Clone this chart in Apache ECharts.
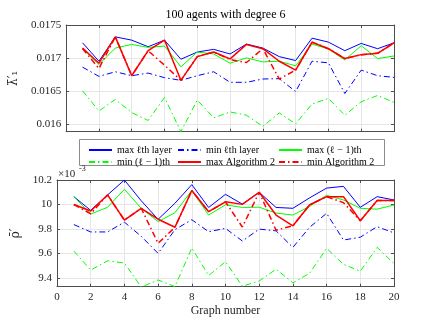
<!DOCTYPE html>
<html>
<head>
<meta charset="utf-8">
<script src="https://cdn.jsdelivr.net/npm/echarts@6/dist/echarts.min.js"></script>
<style>
  html, body { margin: 0; padding: 0; background: #fff; }
  #chart { width: 436px; height: 327px; }
</style>
</head>
<body>
<div id="chart"></div>
<script>
// graph index on x
const graphs = [1, 2, 3, 4, 5, 6, 7, 8, 9, 10, 11, 12, 13, 14, 15, 16, 17, 18, 19, 20];

// top panel: lambda bar'_1
const topMaxL = [0.01723, 0.01695, 0.01732, 0.01727, 0.01717, 0.01727, 0.01698, 0.01709, 0.01713, 0.01706,
                 0.01721, 0.01715, 0.01702, 0.01696, 0.01730, 0.01724, 0.01711, 0.01722, 0.01714, 0.01723];
const topMinL = [0.01686, 0.01672, 0.01679, 0.01673, 0.01677, 0.01670, 0.01666, 0.01673, 0.01679, 0.01663,
                 0.01663, 0.01668, 0.016685, 0.01649, 0.01695, 0.016925, 0.01646, 0.016815, 0.01673, 0.016705];
const topMaxL1 = [0.017145, 0.0169, 0.01715, 0.017205, 0.01716, 0.01718, 0.016865, 0.01709, 0.01706, 0.01692,
                  0.0170, 0.01694, 0.01695, 0.01688, 0.01721, 0.017135, 0.01697, 0.017185, 0.01699, 0.01703];
const topMinL1 = [0.0165, 0.016195, 0.01637, 0.01617, 0.01605, 0.0164, 0.01588, 0.01636, 0.01609, 0.01618,
                  0.01613, 0.01596, 0.016165, 0.0160, 0.0163, 0.016385, 0.01613, 0.016335, 0.01643, 0.016325];
const topMaxA = [0.01715, 0.01692, 0.01732, 0.01673, 0.01711, 0.01727, 0.01666, 0.01702, 0.01709, 0.016985,
                 0.017205, 0.01714, 0.01695, 0.016815, 0.01724, 0.01714, 0.01699, 0.01705, 0.01707, 0.01723];
const topMinA = [0.01714, 0.01684, 0.01732, 0.01673, 0.01711, 0.01689, 0.01666, 0.01702, 0.01709, 0.016975,
                 0.01693, 0.01714, 0.01668, 0.016815, 0.01724, 0.01714, 0.01699, 0.01705, 0.01707, 0.01723];

// bottom panel: rho bar', in units of 1e-3
const botMaxL = [10.064, 9.952, 10.078, 10.2, 10.03, 9.879, 10.01, 10.162, 9.976, 10.083,
                 10.003, 10.1, 9.976, 9.969, 10.055, 10.134, 10.148, 9.977, 10.064, 10.037];
const botMinL = [9.836, 9.776, 9.776, 9.856, 9.74, 9.601, 9.795, 9.876, 9.778, 9.805,
                 9.702, 9.799, 9.785, 9.65, 9.815, 9.928, 9.71, 9.733, 9.819, 9.768];
const botMaxL1 = [10.064, 9.922, 9.977, 10.124, 9.969, 9.86, 9.933, 10.115, 9.914, 9.998,
                  9.976, 9.978, 9.93, 9.914, 9.985, 10.075, 10.037, 9.969, 9.962, 9.996];
const botMinL1 = [9.62, 9.465, 9.54, 9.523, 9.326, 9.384, 9.33, 9.645, 9.42, 9.533,
                  9.333, 9.376, 9.472, 9.36, 9.44, 9.642, 9.512, 9.455, 9.65, 9.517];
const botMaxA = [10.0, 9.947, 10.078, 9.873, 9.969, 9.88, 9.814, 10.114, 9.941, 10.022,
                 10.001, 10.1, 9.914, 9.826, 9.998, 10.064, 10.064, 9.867, 10.033, 10.033];
const botMinA = [10.0, 9.924, 10.078, 9.873, 9.969, 9.683, 9.814, 10.114, 9.941, 10.022,
                 9.816, 10.1, 9.79, 9.826, 9.998, 10.064, 10.015, 9.867, 10.033, 10.033];

// tick labels
const xTicks = [0, 2, 4, 6, 8, 10, 12, 14, 16, 18, 20];
const topTicks = [0.016, 0.0165, 0.017, 0.0175];
const botTicks = [9.4, 9.6, 9.8, 10, 10.2];

const names = ['max ℓth layer', 'min ℓth layer', 'max (ℓ − 1)th', 'min (ℓ − 1)th', 'max Algorithm 2', 'min Algorithm 2'];

const font = 'Liberation Serif';
const axisColor = '#4d4d4d';
const gridColor = '#e6e6e6';
const dashDot = [6, 3, 1.5, 3];

function pairs(ys) {
  return graphs.map((g, i) => [g, ys[i]]);
}

function xAxes(gi, labels) {
  return [{
    gridIndex: gi,
    type: 'value',
    min: xTicks[0],
    max: xTicks[xTicks.length - 1],
    interval: 2,
    axisLine: {show: true, onZero: false, lineStyle: {color: axisColor, width: 1}},
    axisTick: {show: true, inside: true, length: 3, lineStyle: {color: axisColor}},
    axisLabel: {show: labels, fontFamily: font, fontSize: 11, color: '#262626', margin: 5},
    splitLine: {show: true, lineStyle: {color: gridColor, width: 1}},
    name: labels ? 'Graph number' : '',
    nameLocation: 'middle',
    nameGap: 18,
    nameTextStyle: {fontFamily: font, fontSize: 12, color: '#262626'}
  }, {
    gridIndex: gi,
    type: 'value',
    position: 'top',
    min: xTicks[0],
    max: xTicks[xTicks.length - 1],
    interval: 2,
    axisLine: {show: true, onZero: false, lineStyle: {color: axisColor, width: 1}},
    axisTick: {show: true, inside: true, length: 3, lineStyle: {color: axisColor}},
    axisLabel: {show: false},
    splitLine: {show: false}
  }];
}

function yAxes(gi, min, max, ticks, fmt, name, gap) {
  return [{
    gridIndex: gi,
    type: 'value',
    min: min,
    max: max,
    axisLine: {show: true, onZero: false, lineStyle: {color: axisColor, width: 1}},
    axisTick: {show: true, inside: true, length: 3, customValues: ticks, lineStyle: {color: axisColor}},
    axisLabel: {customValues: ticks, formatter: fmt, fontFamily: font, fontSize: 11, color: '#262626', margin: 5},
    splitLine: {show: true, lineStyle: {color: gridColor, width: 1}},
    name: name,
    nameLocation: 'middle',
    nameRotate: 90,
    nameGap: gap,
    nameTextStyle: {fontFamily: 'DejaVu Serif', fontSize: 12, color: '#262626'}
  }, {
    gridIndex: gi,
    type: 'value',
    position: 'right',
    min: min,
    max: max,
    axisLine: {show: true, onZero: false, lineStyle: {color: axisColor, width: 1}},
    axisTick: {show: true, inside: true, length: 3, customValues: ticks, lineStyle: {color: axisColor}},
    axisLabel: {show: false},
    splitLine: {show: false}
  }];
}

function line(name, data, color, width, dashed, xi, yi) {
  return {
    name: name,
    type: 'line',
    xAxisIndex: xi,
    yAxisIndex: yi,
    data: pairs(data),
    symbol: 'none',
    animation: false,
    lineStyle: {color: color, width: width, type: dashed ? dashDot : 'solid'},
    itemStyle: {color: color}
  };
}

function legendCol(left, items) {
  return {
    left: left, top: 140, orient: 'vertical',
    itemWidth: 23, itemHeight: 10, itemGap: 2,
    itemStyle: {opacity: 0, borderWidth: 0},
    data: items,
    textStyle: {fontFamily: font, fontSize: 10, color: '#000', lineHeight: 10}
  };
}

const chart = echarts.init(document.getElementById('chart'));
chart.setOption({
  backgroundColor: '#fff',
  animation: false,
  grid: [
    {left: 57, right: 42, top: 25, height: 106.7},
    {left: 57, right: 42, top: 180, height: 106.7}
  ],
  xAxis: [].concat(xAxes(0, false), xAxes(1, true)),
  yAxis: [].concat(
    yAxes(0, 0.01588, 0.0175, topTicks, v => String(+v.toFixed(4)), 'λ̄′₁', 40),
    yAxes(1, 9.329, 10.2, botTicks, v => String(+v.toFixed(1)), 'ρ̄′', 30)
  ),
  legend: [
    legendCol(83, [names[0], names[3]]),
    legendCol(172, [names[1], names[4]]),
    legendCol(273, [names[2], names[5]])
  ],
  graphic: [
    {type: 'rect', z: 0, shape: {x: 79.5, y: 139.5, width: 305, height: 26},
     style: {fill: '#fff', stroke: '#8c8c8c', lineWidth: 1}},
    {type: 'text', x: 225.5, y: 15, style: {text: '100 agents with degree 6', align: 'center', verticalAlign: 'middle',
     fontFamily: font, fontSize: 12, fill: '#000'}},
    {type: 'text', x: 58, y: 174, style: {text: '×10', align: 'left', verticalAlign: 'middle',
     fontFamily: font, fontSize: 11, fill: '#262626'}},
    {type: 'text', x: 79, y: 169, style: {text: '-3', align: 'left', verticalAlign: 'middle',
     fontFamily: font, fontSize: 8, fill: '#262626'}}
  ],
  series: [
    line(names[0], topMaxL, '#0000ff', 1, false, 0, 0),
    line(names[1], topMinL, '#0000ff', 1, true, 0, 0),
    line(names[2], topMaxL1, '#00ff00', 1, false, 0, 0),
    line(names[3], topMinL1, '#00ff00', 1, true, 0, 0),
    line(names[4], topMaxA, '#ff0000', 1.5, false, 0, 0),
    line(names[5], topMinA, '#ff0000', 1.5, true, 0, 0),
    line(names[0], botMaxL, '#0000ff', 1, false, 2, 2),
    line(names[1], botMinL, '#0000ff', 1, true, 2, 2),
    line(names[2], botMaxL1, '#00ff00', 1, false, 2, 2),
    line(names[3], botMinL1, '#00ff00', 1, true, 2, 2),
    line(names[4], botMaxA, '#ff0000', 1.5, false, 2, 2),
    line(names[5], botMinA, '#ff0000', 1.5, true, 2, 2)
  ]
});
</script>
</body>
</html>
